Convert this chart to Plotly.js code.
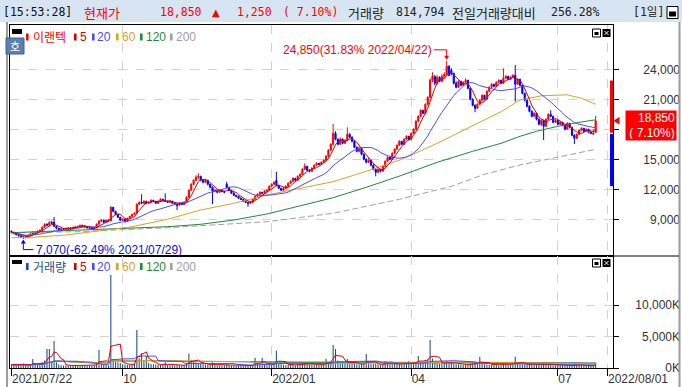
<!DOCTYPE html>
<html><head><meta charset="utf-8">
<script src="https://cdn.plot.ly/plotly-3.0.1.min.js"></script>
<style>html,body{margin:0;padding:0;background:#fff;}#chart{width:682px;height:387px;}</style>
</head><body><div id="chart"></div>
<script>
// ---------------- DATA ----------------
const stockName = '이랜텍';
const clockText = '[15:53:28]';
const lastPrice = 18850, changeAmt = 1250, changePct = 7.10;
const todayVolume = 814794, volRatioPct = 256.28;
const prevClose = 17600, limitUp = 22880, limitDown = 12320;
const peak = {idx: 184, price: 24850, pct: 31.83, date: '2022/04/22'};
const trough = {idx: 5, price: 7070, pct: -62.49, date: '2021/07/29'};
const xTickIdx = [0, 47, 110, 169, 231, 252];
const xTickText = ['2021/07/22', '10', '2022/01', '04', '07', '2022/08/01'];
const xGridIdx = [47, 110, 169, 231, 252];
const priceTicks = [9000, 12000, 15000, 18000, 21000, 24000];
const priceLabelTicks = [9000, 12000, 15000, 21000, 24000];
const volTicks = [0, 5000, 10000];
const volTickText = ['0K', '5,000K', '10,000K'];
const maPeriods = ['5', '20', '60', '120', '200'];

const opens = [
7800,7700,7600,7450,7350,7250,7150,7300,7400,7500,
7700,7650,7800,7900,8200,8500,8400,8700,8700,8300,
8100,7950,8050,8000,8100,8150,8050,8200,8250,8300,
8400,8350,8250,8150,8100,8000,8150,8500,8800,8900,
8700,8900,8850,10200,9800,9500,9200,8900,9000,8800,
9100,9300,9500,9600,10500,10700,10600,10800,10600,10700,
10900,10800,10600,10800,11000,10900,10800,10700,10800,10600,
10500,10400,10600,10500,10700,11200,11900,12500,12900,13200,
13300,12900,12700,12900,12500,12200,11800,11900,11700,11900,
11800,12500,12200,11900,11600,11400,11300,11100,11000,10800,
10700,10600,10700,11000,11300,11500,11700,11600,11800,11900,
12300,12500,12900,12400,12100,11900,12100,12300,12600,12800,
13100,12900,13300,13500,14000,14300,13900,13800,14100,14400,
14600,14500,14700,14900,15300,15900,16500,17600,17000,16500,
17000,16600,16900,17500,17200,16800,16200,15800,16100,15500,
15000,14700,14900,14400,14000,13700,14000,13800,14300,14800,
15200,15000,15600,16000,16400,16800,16500,17000,17300,17000,
17600,18000,18800,19300,19900,19600,20500,21200,22900,23300,
22600,23200,22800,23300,23500,24300,23900,23600,22600,22200,
22800,22400,22700,22900,22100,21000,20400,20100,20500,20900,
21400,21000,21800,22200,22500,22300,22700,22900,22600,23100,
23300,23000,23200,23400,22500,23000,22400,21600,20900,20300,
19800,19300,19600,19000,18500,18900,18300,19000,19500,19300,
18700,18900,18500,18700,18400,18000,18600,18200,17400,17100,
17500,17900,18100,17800,18000,17700,17500,17700];
const highs = [
7900,7750,7650,7500,7400,7300,7350,7450,7600,7800,
7750,7900,8000,8300,8600,8600,8800,8850,9230,8350,
8150,8100,8100,8150,8200,8200,8250,8300,8350,8450,
8450,8400,8300,8200,8150,8200,8600,8950,9000,8950,
8950,9000,10300,10250,9850,9550,9250,9100,9050,9150,
9350,9550,9700,10600,10800,11500,10900,10850,10800,11000,
10950,10850,10900,11100,11050,11600,10850,10900,10850,10650,
10550,10700,10650,10800,11300,12000,12600,13000,13400,13600,
13350,13000,13000,12950,12550,12300,12000,11950,12000,11950,
11850,12760,12250,11950,11700,11450,11350,11200,11050,10900,
10750,10800,11100,11400,11600,11800,11750,11900,12000,12400,
12600,12800,13760,12450,12150,12200,12400,12700,12900,13200,
13150,13400,13600,14100,14600,14350,14000,14200,14500,14700,
14650,14800,15000,15400,16000,16600,18530,17800,17100,17200,
17100,17000,18200,17600,17300,16900,16300,16300,16150,15600,
15100,15100,14950,14500,14100,14100,14050,14400,14900,15300,
15250,15700,16100,16500,16900,16850,17100,17400,17350,17700,
18100,18900,19400,20000,19950,20600,21300,23100,23700,23400,
23400,23300,23500,23700,24850,24400,24100,23650,22800,22900,
22850,22800,23100,22950,22150,21100,20500,20600,21000,21500,
21450,21900,22300,22600,22550,22800,23000,22950,24100,23400,
23350,23300,23500,24430,23100,23050,22450,21650,21000,20400,
19900,19700,19650,19100,19000,18950,19100,19600,19900,19350,
19000,18950,18800,18750,18450,18700,18650,18250,17500,17600,
18000,18200,18150,18100,18050,17800,18000,19350];
const lows = [
7600,7500,7400,7300,7200,7070,7100,7250,7350,7450,
7550,7600,7750,7850,8150,8300,8350,8500,8250,8000,
7900,7900,7950,7950,8050,8000,8000,8150,8200,8250,
8300,8200,8100,8050,7950,7950,8100,8450,8700,8650,
8650,8750,8800,9700,9450,9150,8850,8850,8660,8750,
9050,9250,9450,9600,10400,10500,10550,10550,10550,10650,
10750,10550,10550,10750,10850,10750,10650,10650,10550,10450,
9930,10350,10450,10450,10650,11150,11850,12400,12800,13000,
12800,12600,12650,12400,12100,10530,11700,11600,11650,11700,
11600,12100,11850,11550,11350,11200,11050,10950,10750,10650,
10260,10550,10650,10950,11250,11450,11500,11550,11750,11850,
12250,12450,12300,12050,11850,11850,12050,12250,12550,12750,
12850,12850,13250,13450,13950,13850,13700,13750,14050,14350,
14400,14450,14650,14850,15250,15850,16400,16900,16400,16450,
16500,16550,16850,17100,16700,16100,15700,15750,15400,14900,
14600,14650,14300,13900,13300,13650,13700,13750,14250,14750,
14900,14950,15550,15950,16350,16400,16450,16950,16900,16950,
17550,17950,18700,19200,19500,19550,20400,21100,22700,22400,
22500,22700,22700,23100,23400,23300,23400,22500,22100,22150,
22300,22350,22650,22000,20900,20300,19700,20050,20450,20850,
20900,20950,21750,22150,22200,22250,22650,22500,22550,23050,
22900,22950,23150,20760,22450,22300,21500,20800,20200,19700,
19200,19250,18900,18400,18300,16930,18250,18950,19200,18600,
18650,18400,18450,18300,17900,17950,18100,17300,16530,17050,
17450,17850,17700,17750,17600,17500,17450,17650];
const closes = [
7700,7600,7450,7350,7250,7150,7300,7400,7500,7700,
7650,7800,7900,8200,8500,8400,8700,8600,8300,8100,
7950,8050,8000,8100,8150,8050,8200,8250,8300,8400,
8350,8250,8150,8100,8000,8150,8500,8800,8900,8700,
8900,8850,10200,9800,9500,9200,8900,9000,8800,9100,
9300,9500,9600,10500,10700,10600,10800,10600,10700,10900,
10800,10600,10800,11000,10900,10800,10700,10800,10600,10500,
10400,10600,10500,10700,11200,11900,12500,12900,13200,13300,
12900,12700,12900,12500,12200,11800,11900,11700,11900,11800,
11700,12200,11900,11600,11400,11300,11100,11000,10800,10700,
10600,10700,11000,11300,11500,11700,11600,11800,11900,12300,
12500,12700,12400,12100,11900,12100,12300,12600,12800,13100,
12900,13300,13500,14000,14300,13900,13800,14100,14400,14600,
14500,14700,14900,15300,15900,16500,17600,17000,16500,17000,
16600,16900,17500,17200,16800,16200,15800,16100,15500,15000,
14700,14900,14400,14000,13700,14000,13800,14300,14800,15200,
15000,15600,16000,16400,16800,16500,17000,17300,17000,17600,
18000,18800,19300,19900,19600,20500,21200,22900,23300,22600,
23200,22800,23300,23500,24300,23400,23600,22600,22200,22800,
22400,22700,22900,22100,21000,20400,20100,20500,20900,21400,
21000,21800,22200,22500,22300,22700,22900,22600,23100,23300,
23000,23200,23400,22500,23000,22400,21600,20900,20300,19800,
19300,19600,19000,18500,18900,18300,19000,19500,19300,18700,
18900,18500,18700,18400,18000,18600,18200,17400,17100,17500,
17900,18100,17800,18000,17700,17600,17600,18850];
// volume in thousands of shares
const volumes = [
520,480,610,430,390,700,450,380,520,1430,
420,650,580,900,1200,3000,3000,1100,4290,900,
600,450,380,420,350,400,380,450,420,390,
410,380,360,340,350,420,900,2860,800,600,
500,450,14760,1430,1000,900,800,600,550,500,
520,600,700,6030,1500,2300,1100,1900,800,650,
600,550,500,520,480,900,500,450,420,400,
500,450,400,420,700,2300,1300,1000,900,800,
700,600,550,500,520,900,500,450,400,380,
420,700,450,400,380,360,350,340,360,380,
450,400,420,1640,600,550,1640,500,450,550,
600,700,2750,800,600,500,450,500,550,600,
450,600,650,800,900,600,500,550,600,650,
500,550,600,1480,900,1000,3650,3000,1200,800,
700,650,1430,900,700,650,600,550,600,650,
2220,800,600,650,700,500,450,500,1100,600,
550,600,650,700,600,550,600,650,1100,700,
800,900,1900,1000,900,1200,1300,4440,1500,900,
800,700,750,800,1100,900,800,700,650,600,
550,500,550,600,700,750,800,600,1800,700,
600,550,500,550,600,500,450,500,900,600,
500,450,500,1800,700,600,550,600,650,700,
600,550,500,600,550,800,600,550,500,450,
400,450,420,380,400,450,380,400,600,500,
450,400,380,360,350,320,318,815];
// longer moving averages (day index, value)
const ma60Idx = [0,9,23,37,51,66,80,94,108,122,136,150,165,180,187,198,207,215,224,235,241,247];
const ma60Val = [7160,7200,7430,7830,8260,9000,9930,10600,11430,12100,12760,13800,15000,16600,17430,18760,19760,20930,21350,21450,21100,20500];
const ma120Idx = [0,37,66,80,94,108,122,136,150,165,180,195,207,215,222,231,240,247];
const ma120Val = [7660,8000,8260,8500,8930,9530,10330,11160,12200,13400,14700,15800,16600,17300,17800,18300,18700,18950];
const ma200Idx = [0,28,66,108,136,164,186,200,215,230,247];
const ma200Val = [7650,7760,8160,8760,9600,11000,12300,13500,14430,15200,16000];

// ---------------- HELPERS ----------------
const idx = closes.map((_, i) => i);
function sma(arr, n) {
  return arr.map((_, i) => { const s = Math.max(0, i - n + 1); let t = 0; for (let k = s; k <= i; k++) t += arr[k]; return t / (i - s + 1); });
}
const fmt = v => v.toLocaleString('en-US');
const W = 682, H = 387, ML = 10, MR = 2, MT = 25, MB = 19;
const PW = W - ML - MR, PH = H - MT - MB;
const px = x => (x - ML) / PW;
const py = y => (H - MB - y) / PH;
const splitY = py(256);
const xRange = [-0.634, 254.33];
const priceRange = [5330, 28430];
const volRange = [0, 17778];

const RED = '#ff0000', BLUE = '#0000ff';
const C5 = '#d00000', C20 = '#4a4aff', C60 = '#e0a020', C120 = '#1e8a3c', C200 = '#a0a0a0';
const SANS = 'Liberation Sans, Arial, sans-serif';
const MONO = 'DejaVu Sans Mono, Liberation Mono, monospace';
const KR = 'Noto Sans CJK KR, sans-serif';
const GRID = '#d2d2d2';

// ---------------- TRACES ----------------
const traces = [];
traces.push({type: 'candlestick', x: idx, open: opens, high: highs, low: lows, close: closes,
  xaxis: 'x', yaxis: 'y', whiskerwidth: 0, hoverinfo: 'skip',
  increasing: {line: {color: RED, width: 1}, fillcolor: RED},
  decreasing: {line: {color: BLUE, width: 1}, fillcolor: BLUE}});
const line = (x, y, color, xa, ya, dash) => ({type: 'scatter', mode: 'lines', x, y, xaxis: xa, yaxis: ya,
  line: {color, width: 1, dash: dash || 'solid'}, hoverinfo: 'skip'});
traces.push(line(ma200Idx, ma200Val, C200, 'x', 'y', '6px,3px'));
traces.push(line(ma120Idx, ma120Val, C120, 'x', 'y'));
traces.push(line(ma60Idx, ma60Val, C60, 'x', 'y'));
traces.push(line(idx, sma(closes, 20), C20, 'x', 'y'));
traces.push(line(idx, sma(closes, 5), C5, 'x', 'y'));
// volume
traces.push({type: 'bar', x: idx, y: volumes, xaxis: 'x2', yaxis: 'y2', width: 0.45,
  marker: {color: '#1c4d8f', line: {width: 0}}, hoverinfo: 'skip'});
traces.push(line(idx, sma(volumes, 200), C200, 'x2', 'y2'));
traces.push(line(idx, sma(volumes, 120), C120, 'x2', 'y2'));
traces.push(line(idx, sma(volumes, 60), C60, 'x2', 'y2'));
traces.push(line(idx, sma(volumes, 20), C20, 'x2', 'y2'));
traces.push(line(idx, sma(volumes, 5), '#e00000', 'x2', 'y2'));
// helpers so that label-only axes exist
traces.push({type: 'scatter', x: [], y: [], xaxis: 'x', yaxis: 'y3', hoverinfo: 'skip'});
traces.push({type: 'scatter', x: [], y: [], xaxis: 'x2', yaxis: 'y4', hoverinfo: 'skip'});
traces.push({type: 'scatter', x: [], y: [], xaxis: 'x3', yaxis: 'y2', hoverinfo: 'skip'});

// ---------------- SHAPES ----------------
const shapes = [];
const prect = (x0, y0, x1, y1, fill, lc, lw, layer) => shapes.push({type: 'rect', xref: 'paper', yref: 'paper',
  x0: px(x0), x1: px(x1), y0: py(y0), y1: py(y1), fillcolor: fill, line: {color: lc || fill, width: lw || 0}, layer: layer || 'above'});
const pline = (x0, y0, x1, y1, color, w) => shapes.push({type: 'line', xref: 'paper', yref: 'paper',
  x0: px(x0), x1: px(x1), y0: py(y0), y1: py(y1), line: {color, width: w || 1}});
// header band
prect(0, 0, 682, 22, '#d7e4f1', null, 0, 'below');
// outer gray frame
pline(7, 22, 7, 387, '#9c9c9c', 2);
pline(679.5, 22, 679.5, 387, '#9c9c9c', 2);
pline(613, 256, 679, 256, '#000', 1);
// header window icon
prect(667, 6.5, 678, 18.5, '#fff', '#000', 1);
prect(669, 11.5, 676, 16.5, '#000');
// panel markers & icons
[[29, 34, 29, 37], [260, 264, 259, 267]].forEach(([a, b, c, d]) => {
  prect(12, a, 22, b, '#000');
  prect(592.5, c, 600.5, d, '#fff', '#000', 1);
  prect(594.5, c + 3, 598.5, d - 2, '#000');
  prect(602.5, c, 610.5, d, '#000');
  pline(604.5, c + 2, 608.5, d - 2, '#fff', 1);
  pline(604.5, d - 2, 608.5, c + 2, '#fff', 1);
});
// legend colour chips
const legX = [26, 74, 92, 116, 140, 170];
const legColors = [C5, C20, C60, C120, C200];
[[33.5, 40.5, RED], [263, 270, '#1c4d8f']].forEach(([y0, y1, first]) => {
  [first].concat(legColors).forEach((c, k) => prect(legX[k], y0, legX[k] + 2.6, y1, c));
});
// '호' button
prect(6, 38, 24, 54, '#5b80ae', '#3f6390', 1);
// daily price-limit bar
shapes.push({type: 'rect', xref: 'paper', yref: 'y', x0: px(610), x1: px(613), y0: prevClose + 60, y1: limitUp, fillcolor: RED, line: {width: 0}});
shapes.push({type: 'rect', xref: 'paper', yref: 'y', x0: px(610), x1: px(613), y0: limitDown, y1: prevClose - 60, fillcolor: BLUE, line: {width: 0}});
// current price pointer
shapes.push({type: 'path', xref: 'paper', yref: 'y', xsizemode: 'pixel', ysizemode: 'pixel', xanchor: px(613.5), yanchor: lastPrice,
  path: 'M 0,0 L 6,4 L 6,-4 Z', fillcolor: RED, line: {width: 0}});
// high / low markers
shapes.push({type: 'path', xref: 'x', yref: 'y', xsizemode: 'pixel', ysizemode: 'pixel', xanchor: peak.idx, yanchor: peak.price,
  path: 'M -13,11 L 0,11 L 0,3', line: {color: RED, width: 1}});
shapes.push({type: 'path', xref: 'x', yref: 'y', xsizemode: 'pixel', ysizemode: 'pixel', xanchor: peak.idx, yanchor: peak.price,
  path: 'M -2.5,5 L 2.5,5 L 0,1 Z', fillcolor: RED, line: {width: 0}});
shapes.push({type: 'path', xref: 'x', yref: 'y', xsizemode: 'pixel', ysizemode: 'pixel', xanchor: trough.idx, yanchor: trough.price,
  path: 'M 0,-3 L 0,-11 L 10,-11', line: {color: BLUE, width: 1}});
shapes.push({type: 'path', xref: 'x', yref: 'y', xsizemode: 'pixel', ysizemode: 'pixel', xanchor: trough.idx, yanchor: trough.price,
  path: 'M -2.5,-5 L 2.5,-5 L 0,-1 Z', fillcolor: BLUE, line: {width: 0}});

// ---------------- ANNOTATIONS ----------------
const ann = [];
const txt = (x, y, text, color, size, family, anchor) => ann.push({xref: 'paper', yref: 'paper', x: px(x), y: py(y), text,
  showarrow: false, xanchor: anchor || 'left', yanchor: 'middle', font: {color, size, family}, borderpad: 0, borderwidth: 0});
// header
txt(3, 12, clockText, '#111', 11.5, MONO);
txt(84, 12, '현재가', RED, 13, KR);
txt(160, 12, fmt(lastPrice), RED, 11.5, MONO);
txt(212, 12, '▲', RED, 10, 'DejaVu Sans');
txt(237, 12, fmt(changeAmt), RED, 11.5, MONO);
txt(283, 12, '( ' + changePct.toFixed(2) + '%)', RED, 11.5, MONO);
txt(348, 12, '거래량', '#222', 13, KR);
txt(396, 12, fmt(todayVolume), '#222', 11.5, MONO);
txt(452, 12, '전일거래량대비', '#222', 13, KR);
txt(600, 12, volRatioPct.toFixed(2) + '%', '#222', 11.5, MONO, 'right');
txt(664, 12, '[1일]', '#222', 11.5, MONO + ', ' + KR, 'right');
// legends
const legTextX = [32.5, 80, 97, 122, 146, 176];
const legTextC = ['#e00000', C20, C60, C120, C200];
[[36.7, stockName, RED], [266.5, '거래량', '#1c4d8f']].forEach(([y, name, c0]) => {
  txt(legTextX[0], y, name, c0, 12, KR);
  maPeriods.forEach((p, k) => txt(legTextX[k + 1], y, p, legTextC[k], 12, SANS));
});
// 호 button text
txt(15, 46, '호', '#fff', 11, KR, 'center');
// high / low labels
ann.push({xref: 'x', yref: 'y', x: peak.idx, y: peak.price, xshift: -14, yshift: 11, xanchor: 'right', yanchor: 'middle', showarrow: false,
  text: fmt(peak.price) + '(' + peak.pct.toFixed(2) + '% ' + peak.date + ')', font: {color: RED, size: 12, family: SANS}, borderpad: 0});
ann.push({xref: 'x', yref: 'y', x: trough.idx, y: trough.price, xshift: 12, yshift: -11, xanchor: 'left', yanchor: 'middle', showarrow: false,
  text: fmt(trough.price) + '(' + trough.pct.toFixed(2) + '% ' + trough.date + ')', font: {color: '#1010e0', size: 12, family: SANS}, borderpad: 0});
// current price box
ann.push({xref: 'paper', yref: 'y', x: px(677), y: lastPrice, xanchor: 'right', yanchor: 'middle', yshift: -5, showarrow: false,
  text: fmt(lastPrice) + '<br>( ' + changePct.toFixed(2) + '%)', align: 'right', bgcolor: RED, width: 48, height: 27, borderpad: 1,
  font: {color: '#fff', size: 12, family: SANS}});

// ---------------- LAYOUT ----------------
const axBase = {range: xRange, showgrid: true, gridcolor: GRID, griddash: 'dash', gridwidth: 1, tickvals: xGridIdx,
  showticklabels: false, ticks: '', showline: true, linecolor: '#000', linewidth: 1, mirror: true, zeroline: false, fixedrange: true};
const layout = {
  width: W, height: H, margin: {l: ML, r: MR, t: MT, b: MB, pad: 0},
  paper_bgcolor: '#fff', plot_bgcolor: '#fff', showlegend: false, hovermode: false, dragmode: false,
  font: {family: SANS, size: 12, color: '#333'},
  xaxis: Object.assign({}, axBase, {domain: [0, 0.9], anchor: 'y', rangeslider: {visible: false}}),
  xaxis2: Object.assign({}, axBase, {domain: [0, 0.9], anchor: 'y2'}),
  xaxis3: {overlaying: 'x2', anchor: 'y2', side: 'bottom', range: xRange, tickvals: xTickIdx, ticktext: xTickText,
    ticks: 'outside', ticklen: 7, tickcolor: '#000', tickwidth: 1, ticklabelposition: 'outside right',
    showgrid: false, showline: false, zeroline: false, tickfont: {size: 12, color: '#333', family: SANS}, fixedrange: true},
  yaxis: {domain: [splitY, 1], anchor: 'x', range: priceRange, side: 'right', tickvals: priceTicks, showticklabels: false,
    ticks: 'outside', ticklen: 5, tickcolor: '#000', showgrid: true, gridcolor: GRID, griddash: 'dash',
    showline: true, linecolor: '#000', mirror: true, zeroline: false, fixedrange: true},
  yaxis3: {overlaying: 'y', anchor: 'free', position: 1, side: 'left', range: priceRange, tickvals: priceLabelTicks,
    tickformat: ',d', ticks: '', showgrid: false, showline: false, zeroline: false, tickfont: {size: 12, color: '#333', family: SANS}, fixedrange: true},
  yaxis2: {domain: [0, splitY], anchor: 'x2', range: volRange, side: 'right', tickvals: volTicks, showticklabels: false,
    ticks: 'outside', ticklen: 5, tickcolor: '#000', showgrid: true, gridcolor: GRID, griddash: 'dash',
    showline: true, linecolor: '#000', mirror: true, zeroline: false, fixedrange: true},
  yaxis4: {overlaying: 'y2', anchor: 'free', position: 1, side: 'left', range: volRange, tickvals: volTicks, ticktext: volTickText,
    ticks: '', showgrid: false, showline: false, zeroline: false, tickfont: {size: 12, color: '#333', family: SANS}, fixedrange: true},
  shapes, annotations: ann
};
Plotly.newPlot('chart', traces, layout, {staticPlot: true, displayModeBar: false});
</script></body></html>
